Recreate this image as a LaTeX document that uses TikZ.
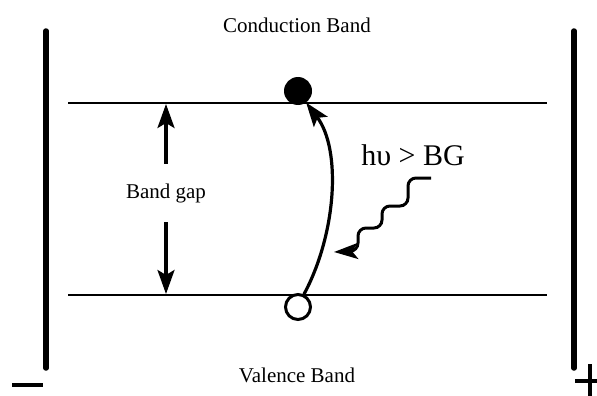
\documentclass[tikz,border=0pt]{standalone}
\usepackage{fontspec}
\setmainfont{Liberation Serif}
\usetikzlibrary{arrows.meta, positioning}

\begin{document}
\begin{tikzpicture}[x=1pt, y=-1pt]
    \useasboundingbox (0,0) rectangle (597,396);
    \tikzset{
        band/.style={line width=1.4pt},
        electrode/.style={line width=5.5pt, line cap=round},
        bigarrow/.style={line width=3.2pt, -{Stealth[length=24pt, width=17pt, inset=5pt]}},
        label/.style={font=\fontsize{21}{25}\selectfont}
    }

    % Hai điện cực ở hai bên
    \draw[electrode] (46,31) -- (46,368);
    \draw[electrode] (574,31) -- (574,368);
    % Dấu trừ và dấu cộng
    \draw[line width=4pt] (12,385) -- (43,385);
    \draw[line width=4pt] (575,381) -- (597,381);
    \draw[line width=4pt] (590,364) -- (590,396);

    % Hai đường biên của vùng cấm
    \draw[band] (68,103) coordinate (cbl) -- (547,103) coordinate (cbr);
    \draw[band] (68,295) coordinate (vbl) -- (547,295) coordinate (vbr);

    % Chữ ở trên và ở dưới
    \node[label] (cband) at (297,25) {Conduction Band};
    \node[label] (vband) at (297,375) {Valence Band};

    % Electron (tròn đen) và lỗ trống (tròn rỗng)
    \node[circle, fill=black, minimum size=28pt, inner sep=0pt] (elec) at (298,91) {};
    \node[circle, draw, line width=3pt, fill=white, minimum size=25pt, inner sep=0pt] (hole) at (298,307) {};

    % Mũi tên "Band gap"
    \node[label] (gap) at (166,193) {Band gap};
    \coordinate (gaptop) at (166,104);
    \coordinate (gapbot) at (166,294);
    \draw[bigarrow] ([yshift=16pt]gap.north) -- (gaptop);
    \draw[bigarrow] ([yshift=-16pt]gap.south) -- (gapbot);

    % Mũi tên cong từ lỗ trống lên electron
    \draw[bigarrow] (hole.65) .. controls (336,235) and (342,150) .. (elec.-55);

    % Photon: đường lượn sóng (bậc thang bo góc)
    \node[font=\fontsize{30}{34}\selectfont] (photon) at (413,155) {hυ > BG};
    \coordinate (wavestart) at (431,178);
    \coordinate (wavetip) at (334,252);
    \draw[line width=3pt, rounded corners=8pt, -{Stealth[length=24pt, width=16pt, inset=6pt]}]
        (wavestart) -- ++(-23,0) -- ++(0,28) -- ++(-26,0) -- ++(0,22)
        -- ++(-24,0) -- ++(0,23) -- (wavetip);
\end{tikzpicture}
\end{document}
